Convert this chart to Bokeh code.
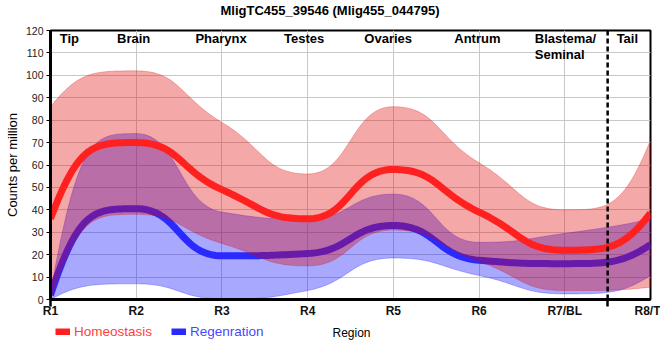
import numpy as np
from bokeh.plotting import figure
from bokeh.layouts import column
from bokeh.models import Range1d, FixedTicker, Legend, LegendItem, Span
from bokeh.core.properties import value
from bokeh.embed import file_html
from bokeh.resources import INLINE

# ---------------- data ----------------
title_text = "MligTC455_39546 (Mlig455_044795)"
x_labels = ["R1", "R2", "R3", "R4", "R5", "R6", "R7/BL", "R8/T"]
x_title = "Region"
y_title = "Counts per million"
series_names = ["Homeostasis", "Regenration"]
region_names = ["Tip", "Brain", "Pharynx", "Testes", "Ovaries", "Antrum", "Blastema/\nSeminal", "Tail"]

homeo_mean = [36, 70, 49, 36, 58, 39, 22, 38.5]
homeo_upper = [86, 102, 79, 56, 86, 61, 40, 71]
homeo_lower = [0, 38, 25, 15, 31, 17, 4, 5.5]

regen_mean = [2, 40.5, 19.5, 20.5, 33, 17.5, 16, 24.5]
regen_upper = [3, 74, 39, 36, 47, 25.5, 29.5, 36]
regen_lower = [0, 7, 0.3, 4, 18.5, 10.7, 2.5, 10.7]

y_ticks = list(range(0, 121, 10))

# ---------------- layout constants ----------------
region_label_x = [0.22, 0.97, 1.99, 2.96, 3.94, 4.98, 5.65, 6.73]
region_label_align = ["center"] * 6 + ["left", "center"]
divider_x = 6.5
FONT = "Liberation Sans"
RED_LINE = "#ff2020"
BLUE_LINE = "#2a2aff"
RED_FILL = "#df0000"
BLUE_FILL = "#0000ff"
GRID = "#c8c8c8"
W = 660
FRAME_L, FRAME_R = 50, 650      # page x of the plot frame (strips share it)
HEAD_H = 24
MAIN_TOP = 6
MAIN_H = 296
FOOT_H = 40

xpos = np.arange(len(x_labels), dtype=float)


def smooth(xv, yv, arm=0.5, n=40):
    """Render a smooth curve through the data points (piecewise cubic Bezier)."""
    x = np.asarray(xv, float)
    y = np.asarray(yv, float)
    N = len(x)
    h = np.diff(x)
    s = np.diff(y) / h
    m = np.zeros(N)
    for i in range(1, N - 1):
        if s[i - 1] * s[i] > 0:
            p_ = (s[i - 1] * h[i] + s[i] * h[i - 1]) / (h[i - 1] + h[i])
            m[i] = np.sign(s[i - 1]) * min(2 * abs(s[i - 1]), 2 * abs(s[i]), abs(p_))
    m[0] = 3 * s[0] - 2 * m[1]
    m[-1] = 3 * s[-1] - 2 * m[-2]
    t = np.linspace(0, 1, n)
    X, Y = [], []
    for i in range(N - 1):
        a0 = 1 / 3 if i == 0 else arm
        a1 = 1 / 3 if i == N - 2 else arm
        P = [(x[i], y[i]),
             (x[i] + a0 * h[i], y[i] + a0 * h[i] * m[i]),
             (x[i + 1] - a1 * h[i], y[i + 1] - a1 * h[i] * m[i + 1]),
             (x[i + 1], y[i + 1])]
        tt = t if i == 0 else t[1:]
        b = [(1 - tt) ** 3, 3 * (1 - tt) ** 2 * tt, 3 * (1 - tt) * tt ** 2, tt ** 3]
        X.append(sum(b[k] * P[k][0] for k in range(4)))
        Y.append(sum(b[k] * P[k][1] for k in range(4)))
    return np.concatenate(X), np.concatenate(Y)


def band(lower, upper):
    xu, yu = smooth(xpos, upper)
    xl, yl = smooth(xpos, lower)
    return np.concatenate([xu, xl[::-1]]), np.concatenate([yu, yl[::-1]])


def strip(height):
    # the column layout aligns this strip's frame with the chart frame,
    # so its x range is expressed in page pixels of that frame
    s = figure(width=W, height=height, min_border=0,
               x_range=Range1d(FRAME_L, FRAME_R), y_range=Range1d(0, height),
               x_axis_type=None, y_axis_type=None,
               output_backend="svg", toolbar_location=None)
    s.outline_line_color = None
    s.background_fill_color = "white"
    s.border_fill_color = "white"
    s.grid.visible = False
    return s


# ================= header: title =================
head = strip(HEAD_H)
head.text(x=[329.5], y=[HEAD_H - 9.5], text=[title_text], text_align="center", text_baseline="middle",
          text_font=value(FONT), text_font_size="13px", text_font_style="bold", text_color="black")

# ================= main chart =================
p = figure(frame_width=FRAME_R - FRAME_L, frame_height=269,
           min_border_left=FRAME_L, min_border_right=W - FRAME_R, min_border_top=MAIN_TOP,
           min_border_bottom=MAIN_H - MAIN_TOP - 269,
           x_range=Range1d(0, 7), y_range=Range1d(0, 120),
           output_backend="svg", toolbar_location=None)

p.background_fill_color = "white"
p.border_fill_color = "white"
p.outline_line_color = "black"
p.outline_line_width = 2

p.xgrid.ticker = FixedTicker(ticks=list(xpos))
p.ygrid.ticker = FixedTicker(ticks=y_ticks)
p.grid.grid_line_color = GRID
p.grid.grid_line_width = 1

p.xaxis.ticker = FixedTicker(ticks=list(xpos), minor_ticks=[0, divider_x])
p.xaxis.major_label_overrides = {float(i): lab for i, lab in enumerate(x_labels)}
p.xaxis.major_tick_out = 0
p.xaxis.major_tick_in = 0
p.xaxis.minor_tick_out = 7
p.xaxis.minor_tick_in = 0
p.xaxis.minor_tick_line_width = 2.5
p.xaxis.minor_tick_line_color = "black"
p.xaxis.axis_line_width = 3
p.xaxis.axis_line_color = "black"
p.xaxis.major_label_text_font = FONT
p.xaxis.major_label_text_font_size = "12px"
p.xaxis.major_label_text_font_style = "bold"
p.xaxis.major_label_text_color = "#111111"
p.xaxis.major_label_standoff = -3

p.yaxis.ticker = FixedTicker(ticks=y_ticks)
p.yaxis.major_tick_out = 4
p.yaxis.major_tick_in = 0
p.yaxis.minor_tick_line_color = None
p.yaxis.axis_line_width = 3
p.yaxis.axis_line_color = "black"
p.yaxis.major_label_text_font = FONT
p.yaxis.major_label_text_font_size = "10.5px"
p.yaxis.major_label_text_color = "#222222"
p.yaxis.major_label_standoff = 3
p.yaxis.axis_label = y_title
p.yaxis.axis_label_text_font = FONT
p.yaxis.axis_label_text_font_size = "13px"
p.yaxis.axis_label_text_font_style = "normal"
p.yaxis.axis_label_text_color = "black"
p.yaxis.axis_label_standoff = 3

bx, by = band(regen_lower, regen_upper)
p.patch(bx, by, fill_color=BLUE_FILL, fill_alpha=0.34, line_color=BLUE_FILL, line_alpha=0.25, line_width=1)
lx, ly = smooth(xpos, regen_mean)
p.line(lx, ly, line_color=BLUE_LINE, line_width=7, line_join="round")

hx, hy = band(homeo_lower, homeo_upper)
p.patch(hx, hy, fill_color=RED_FILL, fill_alpha=0.34, line_color=RED_FILL, line_alpha=0.25, line_width=1)
rx, ry = smooth(xpos, homeo_mean)
p.line(rx, ry, line_color=RED_LINE, line_width=7, line_join="round")

p.add_layout(Span(location=divider_x, dimension="height", line_color="black",
                  line_width=2.5, line_dash="5 3"))

p.text(x=region_label_x, y=[119.95] * len(region_names), text=region_names,
       text_align=region_label_align, text_baseline="top",
       text_font=value(FONT), text_font_size="13px", text_font_style="bold",
       text_color="black", text_line_height=1.1)

# ================= footer: legend + axis title =================
foot = strip(FOOT_H)
# hidden key renderers (kept below the visible y range) that give the legend its swatches
red_key = foot.line(x=[FRAME_L, FRAME_L + 1], y=[-50, -50], line_color=RED_LINE, line_width=7)
blue_key = foot.line(x=[FRAME_L, FRAME_L + 1], y=[-50, -50], line_color=BLUE_LINE, line_width=7)

foot.text(x=[351], y=[FOOT_H - 12], text=[x_title], text_align="center", text_baseline="middle",
          text_font=value(FONT), text_font_size="12px", text_color="black")

common = dict(orientation="horizontal", background_fill_alpha=0, border_line_color=None,
              padding=0, margin=0, spacing=0, glyph_width=15, glyph_height=7,
              label_standoff=4, label_height=14, label_text_font=FONT,
              label_text_font_size="13.5px", label_text_baseline="middle")
leg1 = Legend(items=[LegendItem(label=series_names[0], renderers=[red_key])],
              location=(55 - FRAME_L, 21), label_text_color="#ff4040", **common)
leg2 = Legend(items=[LegendItem(label=series_names[1], renderers=[blue_key])],
              location=(171 - FRAME_L, 21), label_text_color="#4848ff", **common)
foot.add_layout(leg1)
foot.add_layout(leg2)

layout = column(head, p, foot, spacing=0)
open("out.html", "w").write(file_html(layout, INLINE))
